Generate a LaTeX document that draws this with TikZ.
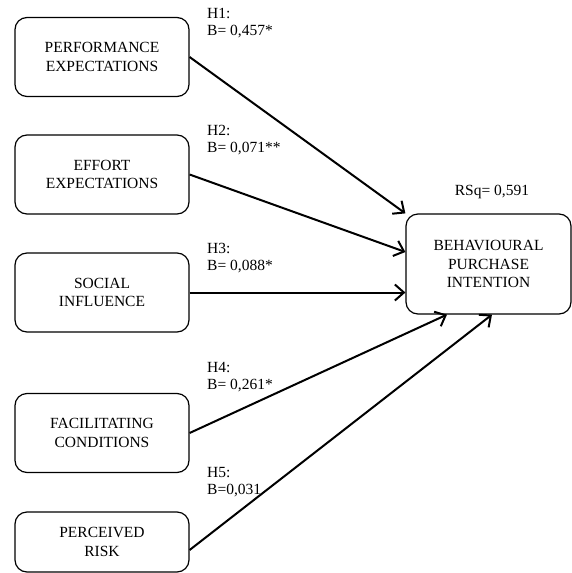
\documentclass[tikz,border=0pt]{standalone}
\usepackage{fontspec}
\setmainfont{Liberation Serif}
\usetikzlibrary{arrows.meta}

\begin{document}
\begin{tikzpicture}[
  x=1pt, y=-1pt,
  font=\fontsize{15.5}{18.5}\selectfont,
  >={Straight Barb[length=9pt,width=16pt]},
  construct/.style={
    rectangle, rounded corners=12pt, draw=black, line width=1.2pt,
    minimum width=174pt, minimum height=79pt, align=center, inner sep=2pt},
  target/.style={
    rectangle, rounded corners=12pt, draw=black, line width=1.2pt,
    minimum width=165pt, minimum height=100pt, align=center, inner sep=2pt},
  edge/.style={->, line width=2pt, draw=black},
  lbl/.style={anchor=north west, align=left, inner sep=0pt,
    font=\fontsize{15.5}{17.5}\selectfont},
]
\useasboundingbox (0,0) rectangle (572,573);

% ---- Predictors (left column) ----
\node[construct] (perf) at (102,57) {PERFORMANCE\\EXPECTATIONS};
\node[construct] (effort) at (102,174.5) {EFFORT\\EXPECTATIONS};
\node[construct] (social) at (102,292.5) {SOCIAL\\INFLUENCE};
\node[construct] (facil) at (102,433) {FACILITATING\\CONDITIONS};
\node[construct, minimum height=60pt] (risk) at (102,542) {PERCEIVED\\RISK};

% ---- Outcome ----
\node[target] (intent) at (488.5,264) {BEHAVIOURAL\\PURCHASE\\INTENTION};
\node[anchor=base] (rsq) at (492,195) {RSq= 0,591};

% ---- Paths ----
\draw[edge] (perf.east) -- (intent.north west);
\draw[edge] (effort.east) -- ([yshift=12pt]intent.west);
\draw[edge] (social.east) -- (social.east -| intent.west);
\draw[edge] (facil.east) -- ([xshift=-41.5pt]intent.south);
\draw[edge] ([yshift=-8pt]risk.east) -- ([xshift=3.5pt]intent.south);

% ---- Coefficients ----
\node[lbl] (h1) at (207,8) {H1:\\B= 0,457*};
\node[lbl] (h2) at (207,125) {H2:\\B= 0,071**};
\node[lbl] (h3) at (207,243) {H3:\\B= 0,088*};
\node[lbl] (h4) at (207,362) {H4:\\B= 0,261*};
\node[lbl] (h5) at (207,467) {H5:\\B=0,031};

\end{tikzpicture}
\end{document}
